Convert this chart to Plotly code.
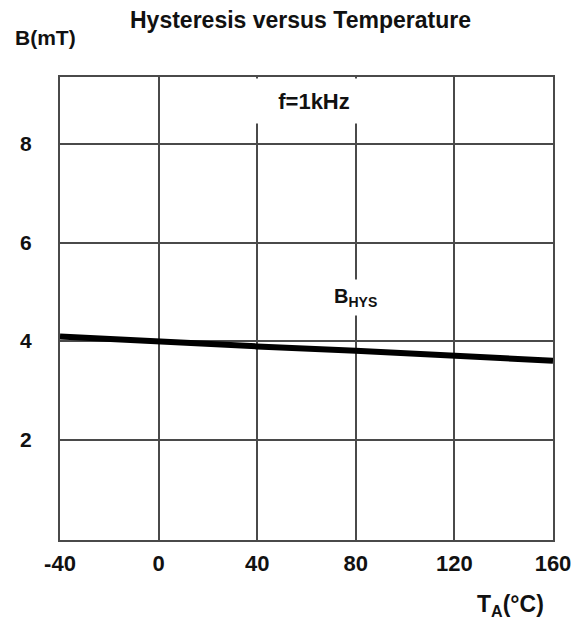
import plotly.graph_objects as go

# Data
temperature = [-40, 0, 40, 80, 120, 160]
b_hys = [4.09, 3.98, 3.89, 3.80, 3.71, 3.60]

x_tickvals = [-40, 0, 40, 80, 120, 160]
x_ticktext = ["-40", "0", "40", "80", "120", "160"]
y_tickvals = [2, 4, 6, 8]
y_ticktext = ["2", "4", "6", "8"]

FONT = "Liberation Sans, Arial, Helvetica, sans-serif"
GRID = "#4a4a4a"
TXT = "#111"

fig = go.Figure()
fig.add_trace(go.Scatter(
    x=temperature, y=b_hys, mode="lines",
    line=dict(color="black", width=6),
    showlegend=False, hoverinfo="skip",
))

# page body adds an 8px offset; margins compensate so the frame sits at 60..553 x 77..540
fig.update_layout(
    width=587, height=623,
    margin=dict(l=52, r=42, t=69, b=91),
    paper_bgcolor="white", plot_bgcolor="white",
    font=dict(family=FONT, color=TXT, size=21),
    xaxis=dict(
        range=[-40, 160], tickvals=x_tickvals, ticktext=x_ticktext,
        showgrid=True, gridcolor=GRID, gridwidth=1.5,
        showline=True, mirror=True, linecolor=GRID, linewidth=2,
        zeroline=False, ticks="outside", ticklen=3, tickcolor="rgba(0,0,0,0)",
        tickfont=dict(family=FONT, size=22, weight="bold", color=TXT),
    ),
    yaxis=dict(
        range=[-0.04, 9.36], tickvals=y_tickvals, ticktext=y_ticktext,
        showgrid=True, gridcolor=GRID, gridwidth=1.5,
        showline=True, mirror=True, linecolor=GRID, linewidth=2,
        zeroline=False, ticks="outside", ticklen=22, tickcolor="rgba(0,0,0,0)",
        tickfont=dict(family=FONT, size=21, weight="bold", color=TXT),
    ),
)

annotations = [
    dict(text="Hysteresis versus Temperature", xref="paper", yref="paper",
         x=0.487, y=1.123, xanchor="center", yanchor="middle", showarrow=False,
         font=dict(family=FONT, size=23, weight="bold", color=TXT)),
    dict(text="B(mT)", xref="paper", yref="paper",
         x=-0.030, y=1.086, xanchor="center", yanchor="middle", showarrow=False,
         font=dict(family=FONT, size=21, weight="bold", color=TXT)),
    dict(text="T<sub>A</sub>(°C)", xref="paper", yref="paper",
         x=0.913, y=-0.1425, xanchor="center", yanchor="middle", showarrow=False,
         font=dict(family=FONT, size=23, weight="bold", color=TXT)),
    dict(text="f=1kHz", xref="x", yref="y", x=63, y=8.87,
         xanchor="center", yanchor="middle", showarrow=False,
         bgcolor="white", width=116, height=42,
         font=dict(family=FONT, size=22, weight="bold", color=TXT)),
    dict(text="B<sub>HYS</sub>", xref="x", yref="y", x=79.7, y=4.89,
         xanchor="center", yanchor="middle", showarrow=False,
         bgcolor="white", borderpad=5,
         font=dict(family=FONT, size=20, weight="bold", color=TXT)),
]
fig.update_layout(annotations=annotations)

fig.write_html("out.html")
